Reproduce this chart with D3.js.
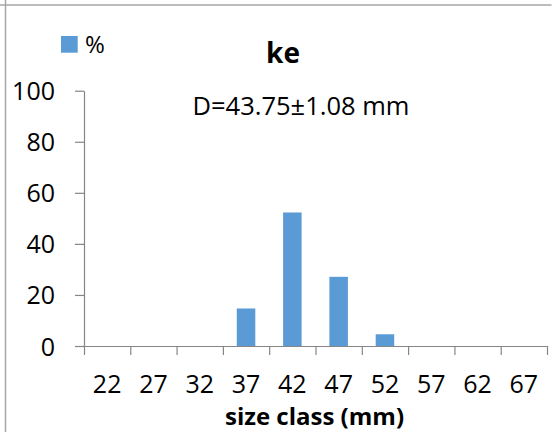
<!DOCTYPE html>
<html>
<head>
<meta charset="utf-8">
<script src="https://cdn.jsdelivr.net/npm/d3@7"></script>
<style>
  html, body { margin: 0; padding: 0; background: #fff; }
  #viz_container { width: 554px; height: 432px; }
  text { font-family: 'Open Sans', 'Noto Sans', sans-serif; fill: #000; }
</style>
</head>
<body>
<div id="viz_container"></div>
<script>
//Data/////////////////////////////////////////////////////
const sizeClasses = ["22", "27", "32", "37", "42", "47", "52", "57", "62", "67"];
const percentValues = [0, 0, 0, 14.7, 52.3, 27.1, 4.6, 0, 0, 0];
const yTickValues = [0, 20, 40, 60, 80, 100];
const seriesName = "%";
const chartTitle = "ke";
const meanLabel = "D=43.75\u00b11.08 mm";
const xAxisTitle = "size class (mm)";

const width = 554;
const height = 432;
const plot = {left: 84, right: 547, top: 90.7, bottom: 346};

const svg = d3.select("#viz_container")
  .append("svg")
    .attr("width", width)
    .attr("height", height);

// frame lines left over from the spreadsheet cell
svg.append("line")
    .attr("x1", 0).attr("x2", 551.5)
    .attr("y1", 5).attr("y2", 5)
    .attr("stroke", "#a6a6a6")
    .attr("stroke-width", 1.5);
svg.append("line")
    .attr("x1", 5.5).attr("x2", 5.5)
    .attr("y1", 0).attr("y2", height)
    .attr("stroke", "#a6a6a6")
    .attr("stroke-width", 1.5);

// scales
const xScale = d3.scaleBand()
    .domain(sizeClasses)
    .range([plot.left, plot.right])
    .paddingInner(0.6)
    .paddingOuter(0.3);

// category boundaries, for the tick marks between the bars
const xEdges = d3.scaleLinear()
    .domain([0, sizeClasses.length])
    .range([plot.left, plot.right]);

const yScale = d3.scaleLinear()
    .domain([0, 100])
    .range([plot.bottom, plot.top]);

// bars
svg.append("g")
  .selectAll("rect")
  .data(percentValues.map((v, i) => ({cls: sizeClasses[i], value: v})))
  .join("rect")
    .attr("x", d => xScale(d.cls))
    .attr("y", d => yScale(d.value))
    .attr("width", xScale.bandwidth())
    .attr("height", d => yScale(0) - yScale(d.value))
    .attr("fill", "#5b9bd5");

// y axis
const yAxis = svg.append("g")
    .attr("transform", `translate(${plot.left},0)`)
    .call(d3.axisLeft(yScale).tickValues(yTickValues).tickSize(9).tickSizeOuter(0).tickPadding(20));
yAxis.select(".domain").attr("stroke", "#868686").attr("stroke-width", 1.2);
yAxis.selectAll(".tick line").attr("stroke", "#868686").attr("stroke-width", 1.2);
yAxis.selectAll(".tick text")
    .attr("font-size", "25px")
    .attr("font-family", "'Open Sans', sans-serif")
    .attr("fill", "#000")
    .attr("dy", "0.36em");

// x axis: ticks at category edges
const xTicks = svg.append("g")
    .attr("transform", `translate(0,${plot.bottom})`)
    .call(d3.axisBottom(xEdges).tickValues(d3.range(sizeClasses.length + 1)).tickFormat("").tickSize(9).tickSizeOuter(0));
xTicks.select(".domain").attr("stroke", "#868686").attr("stroke-width", 1.2);
xTicks.selectAll(".tick line").attr("stroke", "#868686").attr("stroke-width", 1.2);

// x axis: labels at category centres
const xLabels = svg.append("g")
    .attr("transform", `translate(0,${plot.bottom})`)
    .call(d3.axisBottom(xScale).tickSize(0).tickPadding(29));
xLabels.select(".domain").remove();
xLabels.selectAll(".tick text")
    .attr("font-size", "25px")
    .attr("font-family", "'Open Sans', sans-serif")
    .attr("fill", "#000")
    .attr("dy", "0.72em");

// x axis title
svg.append("text")
    .attr("x", (plot.left + plot.right) / 2 - 1)
    .attr("y", 424.5)
    .attr("text-anchor", "middle")
    .attr("font-size", "24px")
    .attr("font-weight", "bold")
    .text(xAxisTitle);

// title
svg.append("text")
    .attr("x", 283)
    .attr("y", 63)
    .attr("text-anchor", "middle")
    .attr("font-size", "28px")
    .attr("font-weight", "bold")
    .text(chartTitle);

// mean size annotation
svg.append("text")
    .attr("x", 301)
    .attr("y", 115)
    .attr("text-anchor", "middle")
    .attr("font-size", "25.5px")
    .text(meanLabel);

// legend
svg.append("rect")
    .attr("x", 61)
    .attr("y", 36)
    .attr("width", 16.7)
    .attr("height", 16.7)
    .attr("fill", "#5b9bd5");
svg.append("text")
    .attr("x", 85)
    .attr("y", 53)
    .attr("font-size", "24px")
    .text(seriesName);
</script>
</body>
</html>
